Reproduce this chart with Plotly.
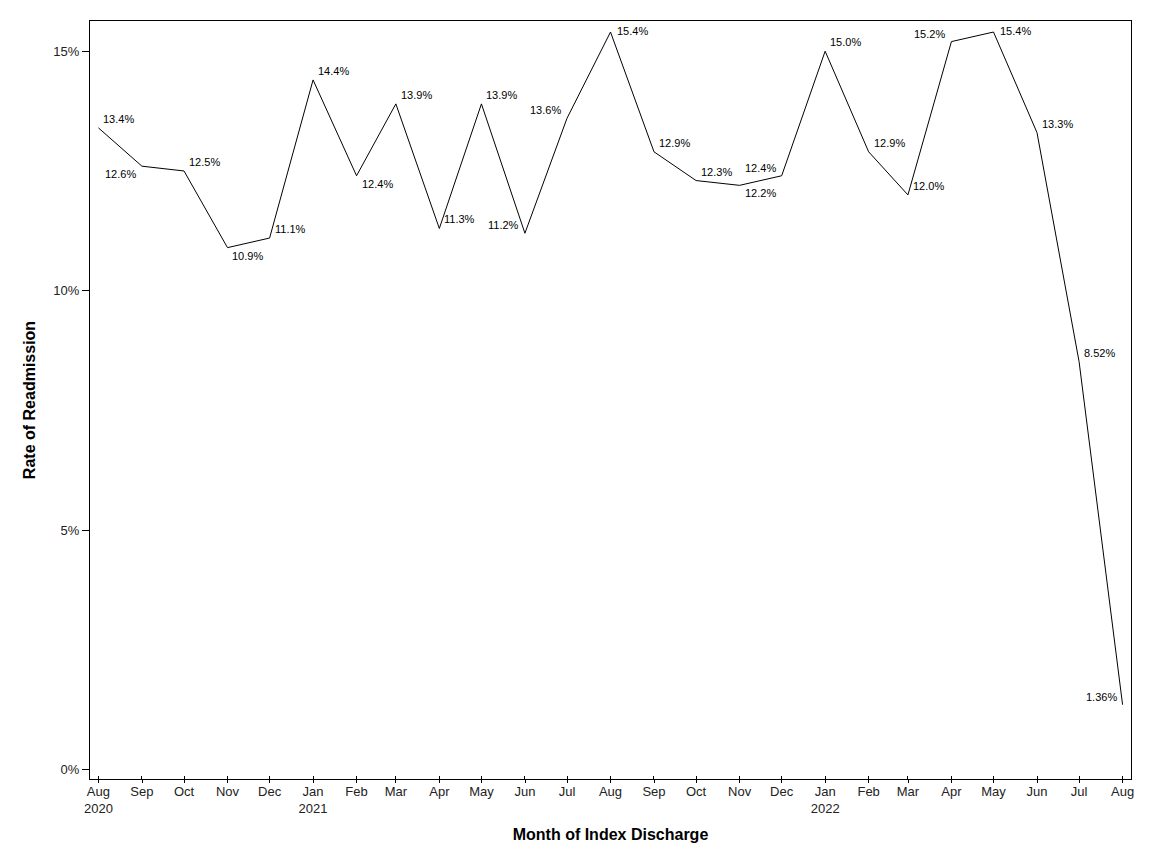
import plotly.graph_objects as go
import pandas as pd
import math

months = pd.date_range("2020-08-01", "2022-08-01", freq="MS")
rates = [13.4, 12.6, 12.5, 10.9, 11.1, 14.4, 12.4, 13.9, 11.3, 13.9, 11.2, 13.6, 15.4,
         12.9, 12.3, 12.2, 12.4, 15.0, 12.9, 12.0, 15.2, 15.4, 13.3, 8.52, 1.36]

label_pos = ["top right", "bottom left", "top right", "bottom right", "top right",
             "top right", "bottom right", "top right", "top right", "top right",
             "top left", "top left", "middle right", "top right", "top right",
             "bottom right", "top left", "top right", "top right", "top right",
             "top left", "middle right", "top right", "top right", "top left"]

FONT = "Liberation Sans, Arial, sans-serif"


def fmt(v):
    d = max(0, 2 - int(math.floor(math.log10(abs(v)))))
    return f"{v:.{d}f}%"


labels = [fmt(v) for v in rates]

tickvals = list(months)
ticktext = []
for i, m in enumerate(months):
    t = m.strftime("%b")
    if i == 0 or m.month == 1:
        t += "<br>" + m.strftime("%Y")
    ticktext.append(t)

fig = go.Figure()
fig.add_trace(go.Scatter(
    x=months, y=rates, mode="lines",
    line=dict(color="black", width=1),
    hoverinfo="x+y",
))

offsets = {
    "top right": ("left", 3, 9),
    "bottom right": ("left", 3, -8),
    "top left": ("right", -4, 8),
    "bottom left": ("right", -4, -8),
    "middle right": ("left", 4, 1),
}
for m, v, lab, pos in zip(months, rates, labels, label_pos):
    xa, dx, dy = offsets[pos]
    fig.add_annotation(
        x=m, y=v, text=lab, showarrow=False,
        xanchor=xa, yanchor="middle", xshift=dx, yshift=dy,
        font=dict(family=FONT, size=11, color="black"),
    )

fig.update_layout(
    width=1152, height=864,
    margin=dict(l=82, r=29, t=13, b=93),
    paper_bgcolor="white", plot_bgcolor="white",
    showlegend=False,
    font=dict(family=FONT, size=13, color="black"),
    xaxis=dict(
        type="date",
        range=["2020-07-26", "2022-08-07"],
        tickvals=tickvals, ticktext=ticktext,
        ticks="inside", ticklen=3, tickcolor="black", tickwidth=1,
        minor=dict(ticks="outside", ticklen=3, tickcolor="black", tickwidth=1,
                   tickvals=[m + pd.Timedelta(hours=2) for m in months]),
        showgrid=False, zeroline=False,
        showline=True, linecolor="black", linewidth=1, mirror=True,
        tickfont=dict(size=13, color="#222"),
        title=dict(text="<b>Month of Index Discharge</b>", font=dict(size=16), standoff=14),
    ),
    yaxis=dict(
        range=[-0.19, 15.63],
        tickvals=[0, 5, 10, 15], ticktext=["0%", "5%", "10%", "15%"],
        ticks="outside", ticklen=7, tickcolor="black", tickwidth=1,
        showgrid=False, zeroline=False,
        showline=True, linecolor="black", linewidth=1, mirror=True,
        tickfont=dict(size=13, color="#222"),
        title=dict(text="<b>Rate of Readmission</b>", font=dict(size=16), standoff=13),
    ),
)

fig.write_html("out.html")
